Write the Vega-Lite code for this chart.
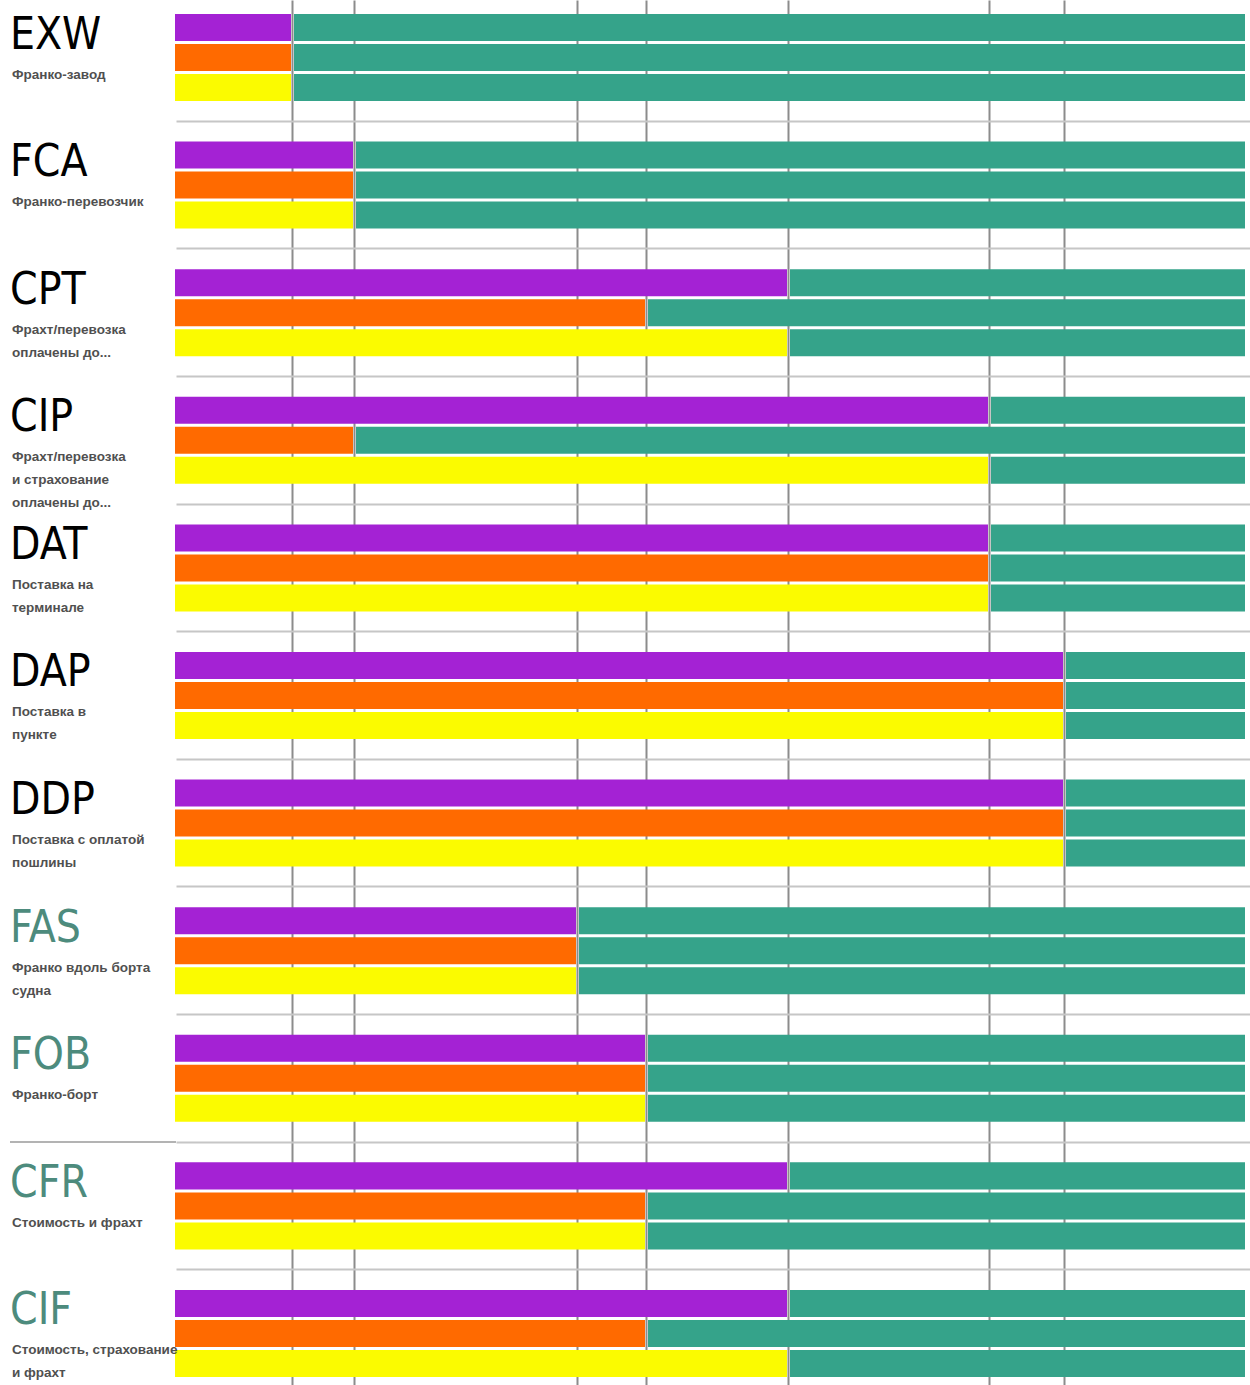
{
  "$schema": "https://vega.github.io/schema/vega-lite/v6.json",
  "width": 1074,
  "height": 1385,
  "autosize": {"type": "none"},
  "padding": {"left": 176, "top": 0, "right": 0, "bottom": 0},
  "background": "white",
  "config": {"view": {"stroke": null}},
  "datasets": {
    "terms": [
      {"code": "EXW", "mode": "any", "desc": "Франко-завод"},
      {"code": "FCA", "mode": "any", "desc": "Франко-перевозчик"},
      {"code": "CPT", "mode": "any", "desc": "Фрахт/перевозка\nоплачены до..."},
      {"code": "CIP", "mode": "any", "desc": "Фрахт/перевозка\nи страхование\nоплачены до..."},
      {"code": "DAT", "mode": "any", "desc": "Поставка на\nтерминале"},
      {"code": "DAP", "mode": "any", "desc": "Поставка в\nпункте"},
      {"code": "DDP", "mode": "any", "desc": "Поставка с оплатой\nпошлины"},
      {"code": "FAS", "mode": "sea", "desc": "Франко вдоль борта\nсудна"},
      {"code": "FOB", "mode": "sea", "desc": "Франко-борт"},
      {"code": "CFR", "mode": "sea", "desc": "Стоимость и фрахт"},
      {"code": "CIF", "mode": "sea", "desc": "Стоимость, страхование\nи фрахт"}
    ],
    "bars": [
      {"code": "EXW", "party": "costs", "split": 116},
      {"code": "EXW", "party": "risk", "split": 116},
      {"code": "EXW", "party": "insurance", "split": 116},
      {"code": "FCA", "party": "costs", "split": 178},
      {"code": "FCA", "party": "risk", "split": 178},
      {"code": "FCA", "party": "insurance", "split": 178},
      {"code": "CPT", "party": "costs", "split": 612},
      {"code": "CPT", "party": "risk", "split": 470},
      {"code": "CPT", "party": "insurance", "split": 612},
      {"code": "CIP", "party": "costs", "split": 813},
      {"code": "CIP", "party": "risk", "split": 178},
      {"code": "CIP", "party": "insurance", "split": 813},
      {"code": "DAT", "party": "costs", "split": 813},
      {"code": "DAT", "party": "risk", "split": 813},
      {"code": "DAT", "party": "insurance", "split": 813},
      {"code": "DAP", "party": "costs", "split": 888},
      {"code": "DAP", "party": "risk", "split": 888},
      {"code": "DAP", "party": "insurance", "split": 888},
      {"code": "DDP", "party": "costs", "split": 888},
      {"code": "DDP", "party": "risk", "split": 888},
      {"code": "DDP", "party": "insurance", "split": 888},
      {"code": "FAS", "party": "costs", "split": 401},
      {"code": "FAS", "party": "risk", "split": 401},
      {"code": "FAS", "party": "insurance", "split": 401},
      {"code": "FOB", "party": "costs", "split": 470},
      {"code": "FOB", "party": "risk", "split": 470},
      {"code": "FOB", "party": "insurance", "split": 470},
      {"code": "CFR", "party": "costs", "split": 612},
      {"code": "CFR", "party": "risk", "split": 470},
      {"code": "CFR", "party": "insurance", "split": 470},
      {"code": "CIF", "party": "costs", "split": 612},
      {"code": "CIF", "party": "risk", "split": 470},
      {"code": "CIF", "party": "insurance", "split": 612}
    ]
  },
  "encoding": {
    "y": {
      "field": "code",
      "type": "nominal",
      "scale": {
        "domain": ["EXW", "FCA", "CPT", "CIP", "DAT", "DAP", "DDP", "FAS", "FOB", "CFR", "CIF"],
        "paddingInner": 0.318,
        "paddingOuter": 0.0862,
        "align": 0.636
      },
      "axis": {
        "labels": false,
        "ticks": false,
        "domain": false,
        "title": null,
        "grid": true,
        "bandPosition": 1.233,
        "gridColor": "#c6c6c6",
        "gridWidth": 2
      }
    }
  },
  "layer": [
    {
      "data": {"name": "bars"},
      "mark": {"type": "bar", "xOffset": -1},
      "encoding": {
        "x": {
          "field": "split",
          "type": "quantitative",
          "scale": {"domain": [0, 1074], "nice": false, "zero": true},
          "axis": {
            "values": [116, 178, 401, 470, 612, 813, 888],
            "grid": true,
            "labels": false,
            "ticks": false,
            "domain": false,
            "title": null,
            "gridColor": "#8c8c8c",
            "gridWidth": 2
          }
        },
        "yOffset": {
          "field": "party",
          "type": "nominal",
          "scale": {"domain": ["costs", "risk", "insurance"], "paddingInner": 0.1, "paddingOuter": 0}
        },
        "color": {
          "field": "party",
          "type": "nominal",
          "scale": {"domain": ["costs", "risk", "insurance"], "range": ["#a422d4", "#ff6a00", "#fbfb00"]},
          "legend": null
        }
      }
    },
    {
      "data": {"name": "bars"},
      "mark": {"type": "bar", "color": "#35a38a", "xOffset": 2},
      "encoding": {
        "x": {"field": "split", "type": "quantitative"},
        "x2": {"datum": 1069},
        "yOffset": {
          "field": "party",
          "type": "nominal",
          "scale": {"domain": ["costs", "risk", "insurance"], "paddingInner": 0.1, "paddingOuter": 0}
        }
      }
    },
    {
      "data": {"name": "terms"},
      "transform": [{"filter": "datum.code === 'FOB'"}],
      "mark": {"type": "rule", "color": "#9a9a9a", "strokeWidth": 1.5},
      "encoding": {
        "y": {"field": "code", "type": "nominal", "bandPosition": 1.233},
        "x": {"datum": -166, "type": "quantitative"},
        "x2": {"datum": 0}
      }
    },
    {
      "data": {"name": "terms"},
      "mark": {"type": "text", "align": "left", "baseline": "alphabetic", "dy": -9, "font": "Liberation Sans Narrow, DejaVu Sans Condensed, sans-serif", "fontSize": 44},
      "encoding": {
        "x": {"datum": -166, "type": "quantitative"},
        "text": {"field": "code"},
        "color": {
          "field": "mode",
          "type": "nominal",
          "scale": {"domain": ["any", "sea"], "range": ["#000000", "#4d8b7d"]},
          "legend": null
        }
      }
    },
    {
      "data": {"name": "terms"},
      "mark": {"type": "text", "align": "left", "baseline": "top", "dy": 10, "lineBreak": "\n", "lineHeight": 23, "font": "Liberation Sans", "fontWeight": "bold", "fontSize": 13.5, "color": "#505050"},
      "encoding": {
        "x": {"datum": -164, "type": "quantitative"},
        "text": {"field": "desc"}
      }
    }
  ],
  "resolve": {"scale": {"color": "independent"}}
}
